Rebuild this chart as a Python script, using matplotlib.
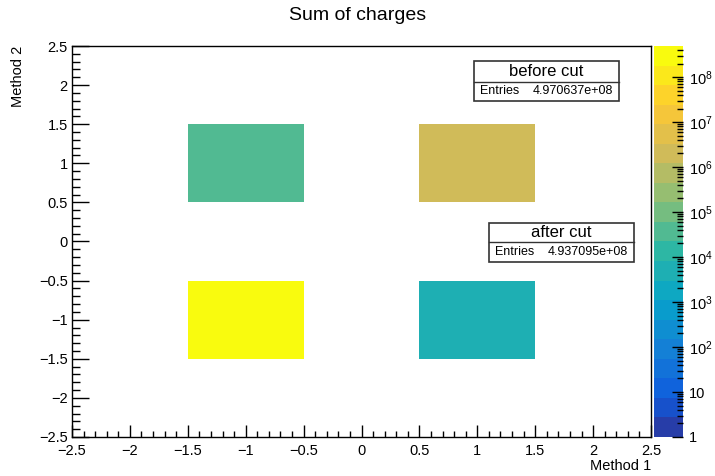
import numpy as np
import matplotlib
matplotlib.use("Agg")
import matplotlib.pyplot as plt
from matplotlib.colors import LinearSegmentedColormap, ListedColormap, LogNorm
from matplotlib.patches import Rectangle
from matplotlib.ticker import MultipleLocator, FixedLocator, FuncFormatter, NullFormatter

plt.rcParams['font.family'] = ['Liberation Sans', 'DejaVu Sans']
plt.rcParams['mathtext.fontset'] = 'custom'
plt.rcParams['mathtext.rm'] = 'Liberation Sans'

# bin centres and summed charge of the filled cells
method1 = [-1.0, 1.0, -1.0, 1.0]
method2 = [1.0, 1.0, -1.0, -1.0]
charges = [4.0e4, 2.5e6, 4.9e8, 5.0e3]

bin_edges = np.linspace(-2.5, 2.5, 6)

stat_names = ["before cut", "after cut"]
stat_entries = ["4.970637e+08", "4.937095e+08"]

W, H = 715, 476
def fx(x):
    return x / W
def fy(y):
    return 1 - y / H

# ROOT kBird palette, 20 contour levels
stops = [0.0, 0.125, 0.25, 0.375, 0.5, 0.625, 0.75, 0.875, 1.0]
red = [0.2082, 0.0592, 0.0780, 0.0232, 0.1802, 0.5301, 0.8186, 0.9956, 0.9764]
green = [0.1664, 0.3599, 0.5041, 0.6419, 0.7178, 0.7492, 0.7328, 0.7862, 0.9832]
blue = [0.5293, 0.8684, 0.8385, 0.7914, 0.6425, 0.4662, 0.3499, 0.1968, 0.0539]
bird = LinearSegmentedColormap.from_list("bird", list(zip(stops, zip(red, green, blue))))
ncont = 20
cmap = ListedColormap([bird((i + 0.99) / ncont) for i in range(ncont)])

counts, xe, ye = np.histogram2d(method1, method2, bins=[bin_edges, bin_edges], weights=charges)
counts = np.ma.masked_less_equal(counts.T, 0)

fig = plt.figure(figsize=(W / 100, H / 100), dpi=100)
ax = fig.add_axes([fx(72), fy(437), (651 - 72) / W, (437 - 46) / H])
cax = fig.add_axes([fx(654), fy(437), (683 - 654) / W, (437 - 46) / H])

zmax = max(charges)
mesh = ax.pcolormesh(xe, ye, counts, cmap=cmap, norm=LogNorm(vmin=1, vmax=zmax))

ax.set_xlim(-2.5, 2.5)
ax.set_ylim(-2.5, 2.5)
for s in ax.spines.values():
    s.set_linewidth(1.0)
ax.xaxis.set_major_locator(MultipleLocator(0.5))
ax.xaxis.set_minor_locator(MultipleLocator(0.1))
ax.yaxis.set_major_locator(MultipleLocator(0.5))
ax.yaxis.set_minor_locator(MultipleLocator(0.1))
ax.xaxis.set_major_formatter(FuncFormatter(lambda v, p: ("%g" % v).replace("-", "\u2212")))
ax.yaxis.set_major_formatter(FuncFormatter(lambda v, p: ("%g" % v).replace("-", "\u2212")))
ax.tick_params(axis='x', which='major', direction='in', length=8.6, width=1, labelsize=10.5, pad=5)
ax.tick_params(axis='x', which='minor', direction='in', length=4.3, width=1)
ax.tick_params(axis='y', which='major', direction='in', length=12.2, width=1, labelsize=10.5, pad=3)
ax.tick_params(axis='y', which='minor', direction='in', length=6.1, width=1)

cb = fig.colorbar(mesh, cax=cax)
cb.outline.set_visible(False)
cax.yaxis.set_ticks_position('right')
major = [10.0 ** e for e in range(0, 9)]
minor = [m * 10.0 ** e for e in range(0, 9) for m in range(2, 10) if m * 10.0 ** e <= zmax]
cax.yaxis.set_major_locator(FixedLocator(major))
cax.yaxis.set_minor_locator(FixedLocator(minor))
def cbfmt(v, p):
    e = int(round(np.log10(v)))
    if e == 0:
        return "1"
    if e == 1:
        return "10"
    return r"$\mathdefault{10^{%d}}$" % e
cax.yaxis.set_major_formatter(FuncFormatter(cbfmt))
cax.yaxis.set_minor_formatter(NullFormatter())
cax.tick_params(which='major', direction='in', length=8, width=1, labelsize=10.5, pad=4)
cax.tick_params(which='minor', direction='in', length=4, width=1)

fig.text(0.5, fy(15), "Sum of charges", ha='center', va='center', fontsize=14)
fig.text(fx(651), fy(466), "Method 1", ha='right', va='center', fontsize=10.5)
fig.text(fx(18), fy(46), "Method 2", ha='center', va='top', rotation=90, fontsize=10.5)

# stat boxes (pixel coords: left, right, top, divider, bottom)
boxes = [(474, 619, 61, 82, 101), (489, 634, 223, 242, 262)]
for (l, r, t, d, b), name, ent in zip(boxes, stat_names, stat_entries):
    fig.add_artist(Rectangle((fx(l), fy(b)), (r - l) / W, (b - t) / H, transform=fig.transFigure,
                             facecolor='white', edgecolor='#333333', linewidth=1.2, zorder=5))
    fig.add_artist(plt.Line2D([fx(l), fx(r)], [fy(d), fy(d)], transform=fig.transFigure,
                              color='#333333', linewidth=1, zorder=6))
    fig.text(fx((l + r) / 2), fy((t + d) / 2), name, ha='center', va='center', fontsize=12, zorder=7)
    fig.text(fx(l + 6), fy((d + b) / 2), "Entries", ha='left', va='center', fontsize=9, zorder=7)
    fig.text(fx(r - 6), fy((d + b) / 2), ent, ha='right', va='center', fontsize=9, zorder=7)

fig.savefig("out.png", dpi=100)
